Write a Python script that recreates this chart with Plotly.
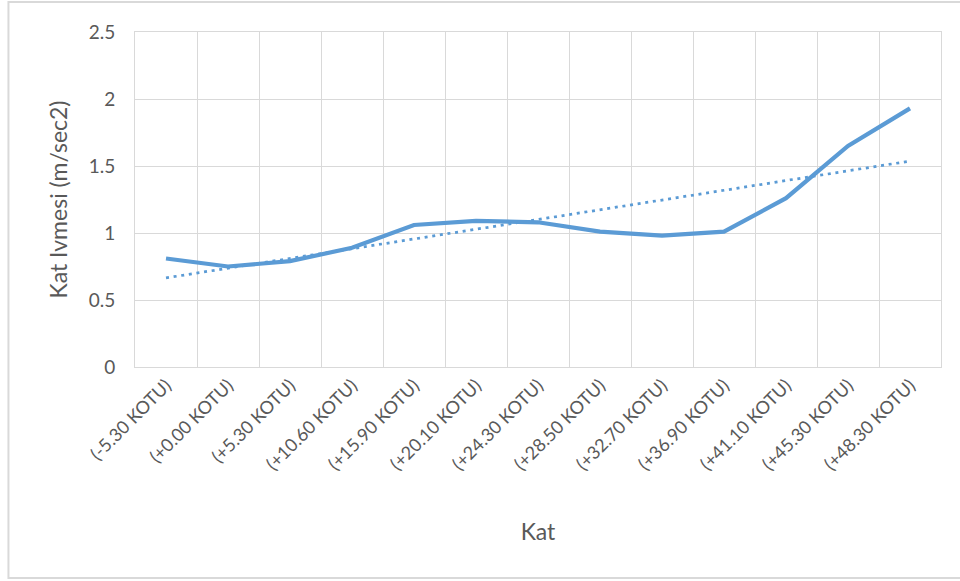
import numpy as np
import plotly.graph_objects as go

# Floor levels (categories) and floor acceleration values
kat = [
    "(-5.30 KOTU)", "(+0.00 KOTU)", "(+5.30 KOTU)", "(+10.60 KOTU)",
    "(+15.90 KOTU)", "(+20.10 KOTU)", "(+24.30 KOTU)", "(+28.50 KOTU)",
    "(+32.70 KOTU)", "(+36.90 KOTU)", "(+41.10 KOTU)", "(+45.30 KOTU)",
    "(+48.30 KOTU)",
]
ivme = [0.81, 0.75, 0.79, 0.89, 1.06, 1.09, 1.08, 1.01, 0.98, 1.01, 1.26, 1.65, 1.93]

y_ticks = [0, 0.5, 1, 1.5, 2, 2.5]
y_tick_text = ["0", "0.5", "1", "1.5", "2", "2.5"]

# Linear trendline over category index
idx = np.arange(1, len(ivme) + 1)
slope, intercept = np.polyfit(idx, ivme, 1)
trend = slope * idx + intercept

BLUE = "#5b9bd5"
GRID = "#d9d9d9"
TEXT = "#595959"
FONT = "Lato"

fig = go.Figure()
fig.add_trace(go.Scatter(
    x=kat, y=ivme, mode="lines",
    line=dict(color=BLUE, width=4.2),
    showlegend=False, hoverinfo="x+y",
))
fig.add_trace(go.Scatter(
    x=kat, y=trend, mode="lines",
    line=dict(color=BLUE, width=2.75, dash="3px,4.7px"),
    showlegend=False, hoverinfo="skip",
))

# Plot-area geometry (pixels)
L, R, T, B = 135, 19.3, 32, 214
W, H = 960, 581
pw, ph = W - L - R, H - T - B

def px_x(p):
    return (p - L) / pw

def px_y(p):
    return (H - B - p) / ph

fig.update_layout(
    width=W, height=H,
    margin=dict(l=L, r=R, t=T, b=B),
    paper_bgcolor="white", plot_bgcolor="white",
    font=dict(family=FONT, color=TEXT, size=18),
    xaxis=dict(
        type="category", range=[-0.5, len(kat) - 0.5],
        tickson="boundaries", ticks="", tickangle=-45,
        showgrid=True, gridcolor=GRID, gridwidth=1,
        showline=True, linecolor=GRID, linewidth=1, mirror=True,
        tickfont=dict(size=18, color=TEXT, family=FONT),
        title=dict(text="Kat", font=dict(size=23, color=TEXT, family=FONT), standoff=50),
        automargin=False, fixedrange=True,
    ),
    yaxis=dict(
        range=[0, 2.5], tickvals=y_ticks, ticktext=y_tick_text,
        ticks="", ticklabelstandoff=15,
        showgrid=True, gridcolor=GRID, gridwidth=1,
        zeroline=False,
        showline=True, linecolor=GRID, linewidth=1, mirror=True,
        tickfont=dict(size=19, color=TEXT, family=FONT),
        title=dict(text="Kat Ivmesi (m/sec2)", font=dict(size=23, color=TEXT, family=FONT), standoff=14),
        automargin=False, fixedrange=True,
    ),
    shapes=[dict(
        type="rect", xref="paper", yref="paper",
        x0=px_x(8.5), x1=px_x(965), y0=px_y(578), y1=px_y(2),
        line=dict(color=GRID, width=2), fillcolor="rgba(0,0,0,0)", layer="below",
    )],
)

fig.write_html("out.html")
